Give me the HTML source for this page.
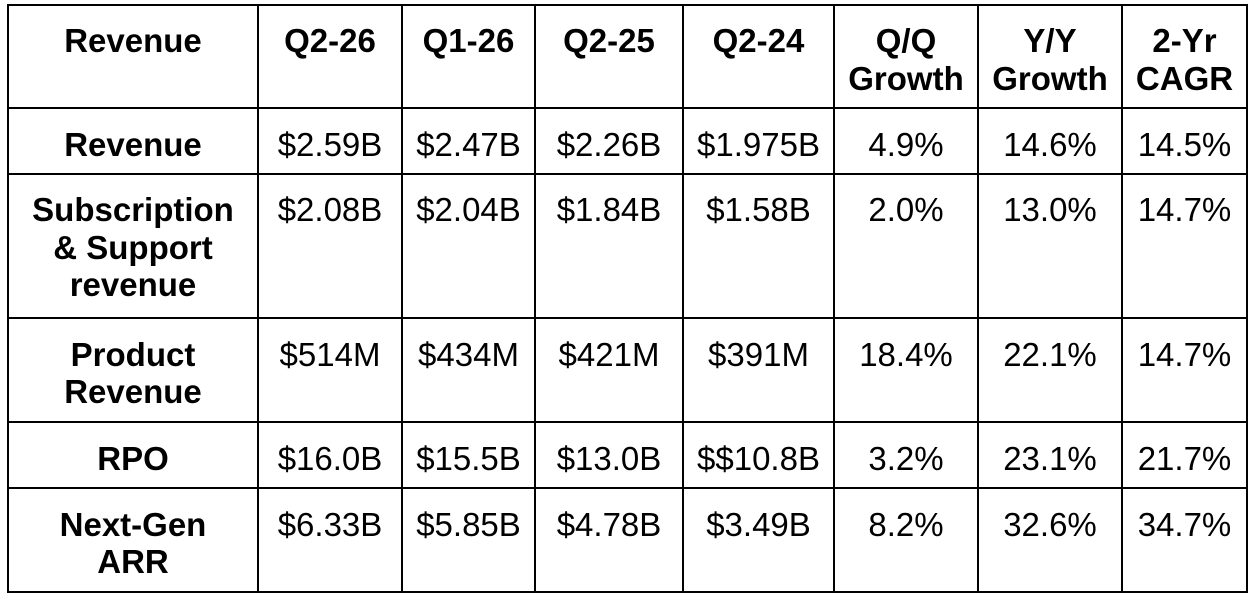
<!DOCTYPE html>
<html>
<head>
<meta charset="utf-8">
<style>
  html, body { margin:0; padding:0; background:#fff; }
  body { width:1255px; height:597px; position:relative; overflow:hidden;
         font-family:"Liberation Sans", Arial, sans-serif; color:#000; }
  .v { position:absolute; width:2px; background:#000; top:4px; height:589px; }
  .h { position:absolute; height:2px; background:#000; left:7px; width:1241px; }
  .c { position:absolute; text-align:center; font-size:33px; line-height:37.5px; white-space:nowrap; }
  .b { font-weight:bold; }
</style>
</head>
<body>
<!-- vertical lines -->
<div class="v" style="left:7px"></div>
<div class="v" style="left:257px"></div>
<div class="v" style="left:401px"></div>
<div class="v" style="left:534px"></div>
<div class="v" style="left:682px"></div>
<div class="v" style="left:833px"></div>
<div class="v" style="left:977px"></div>
<div class="v" style="left:1121px"></div>
<div class="v" style="left:1246px"></div>
<!-- horizontal lines -->
<div class="h" style="top:4px"></div>
<div class="h" style="top:107px"></div>
<div class="h" style="top:173px"></div>
<div class="h" style="top:317px"></div>
<div class="h" style="top:421px"></div>
<div class="h" style="top:487px"></div>
<div class="h" style="top:591px"></div>

<!-- header row -->
<div class="c b" style="left:8px;width:250px;top:22px">Revenue</div>
<div class="c b" style="left:258px;width:144px;top:22px">Q2-26</div>
<div class="c b" style="left:402px;width:133px;top:22px">Q1-26</div>
<div class="c b" style="left:535px;width:148px;top:22px">Q2-25</div>
<div class="c b" style="left:683px;width:151px;top:22px">Q2-24</div>
<div class="c b" style="left:834px;width:144px;top:22px">Q/Q<br>Growth</div>
<div class="c b" style="left:978px;width:144px;top:22px">Y/Y<br>Growth</div>
<div class="c b" style="left:1122px;width:125px;top:22px">2-Yr<br>CAGR</div>

<!-- Revenue row -->
<div class="c b" style="left:8px;width:250px;top:125.5px">Revenue</div>
<div class="c" style="left:258px;width:144px;top:125.5px">$2.59B</div>
<div class="c" style="left:402px;width:133px;top:125.5px">$2.47B</div>
<div class="c" style="left:535px;width:148px;top:125.5px">$2.26B</div>
<div class="c" style="left:683px;width:151px;top:125.5px">$1.975B</div>
<div class="c" style="left:834px;width:144px;top:125.5px">4.9%</div>
<div class="c" style="left:978px;width:144px;top:125.5px">14.6%</div>
<div class="c" style="left:1122px;width:125px;top:125.5px">14.5%</div>

<!-- Subscription row -->
<div class="c b" style="left:8px;width:250px;top:191px">Subscription<br>&amp; Support<br>revenue</div>
<div class="c" style="left:258px;width:144px;top:191px">$2.08B</div>
<div class="c" style="left:402px;width:133px;top:191px">$2.04B</div>
<div class="c" style="left:535px;width:148px;top:191px">$1.84B</div>
<div class="c" style="left:683px;width:151px;top:191px">$1.58B</div>
<div class="c" style="left:834px;width:144px;top:191px">2.0%</div>
<div class="c" style="left:978px;width:144px;top:191px">13.0%</div>
<div class="c" style="left:1122px;width:125px;top:191px">14.7%</div>

<!-- Product row -->
<div class="c b" style="left:8px;width:250px;top:335.5px">Product<br>Revenue</div>
<div class="c" style="left:258px;width:144px;top:335.5px">$514M</div>
<div class="c" style="left:402px;width:133px;top:335.5px">$434M</div>
<div class="c" style="left:535px;width:148px;top:335.5px">$421M</div>
<div class="c" style="left:683px;width:151px;top:335.5px">$391M</div>
<div class="c" style="left:834px;width:144px;top:335.5px">18.4%</div>
<div class="c" style="left:978px;width:144px;top:335.5px">22.1%</div>
<div class="c" style="left:1122px;width:125px;top:335.5px">14.7%</div>

<!-- RPO row -->
<div class="c b" style="left:8px;width:250px;top:439.5px">RPO</div>
<div class="c" style="left:258px;width:144px;top:439.5px">$16.0B</div>
<div class="c" style="left:402px;width:133px;top:439.5px">$15.5B</div>
<div class="c" style="left:535px;width:148px;top:439.5px">$13.0B</div>
<div class="c" style="left:683px;width:151px;top:439.5px">$$10.8B</div>
<div class="c" style="left:834px;width:144px;top:439.5px">3.2%</div>
<div class="c" style="left:978px;width:144px;top:439.5px">23.1%</div>
<div class="c" style="left:1122px;width:125px;top:439.5px">21.7%</div>

<!-- Next-Gen row -->
<div class="c b" style="left:8px;width:250px;top:505.5px">Next-Gen<br>ARR</div>
<div class="c" style="left:258px;width:144px;top:505.5px">$6.33B</div>
<div class="c" style="left:402px;width:133px;top:505.5px">$5.85B</div>
<div class="c" style="left:535px;width:148px;top:505.5px">$4.78B</div>
<div class="c" style="left:683px;width:151px;top:505.5px">$3.49B</div>
<div class="c" style="left:834px;width:144px;top:505.5px">8.2%</div>
<div class="c" style="left:978px;width:144px;top:505.5px">32.6%</div>
<div class="c" style="left:1122px;width:125px;top:505.5px">34.7%</div>
</body>
</html>
